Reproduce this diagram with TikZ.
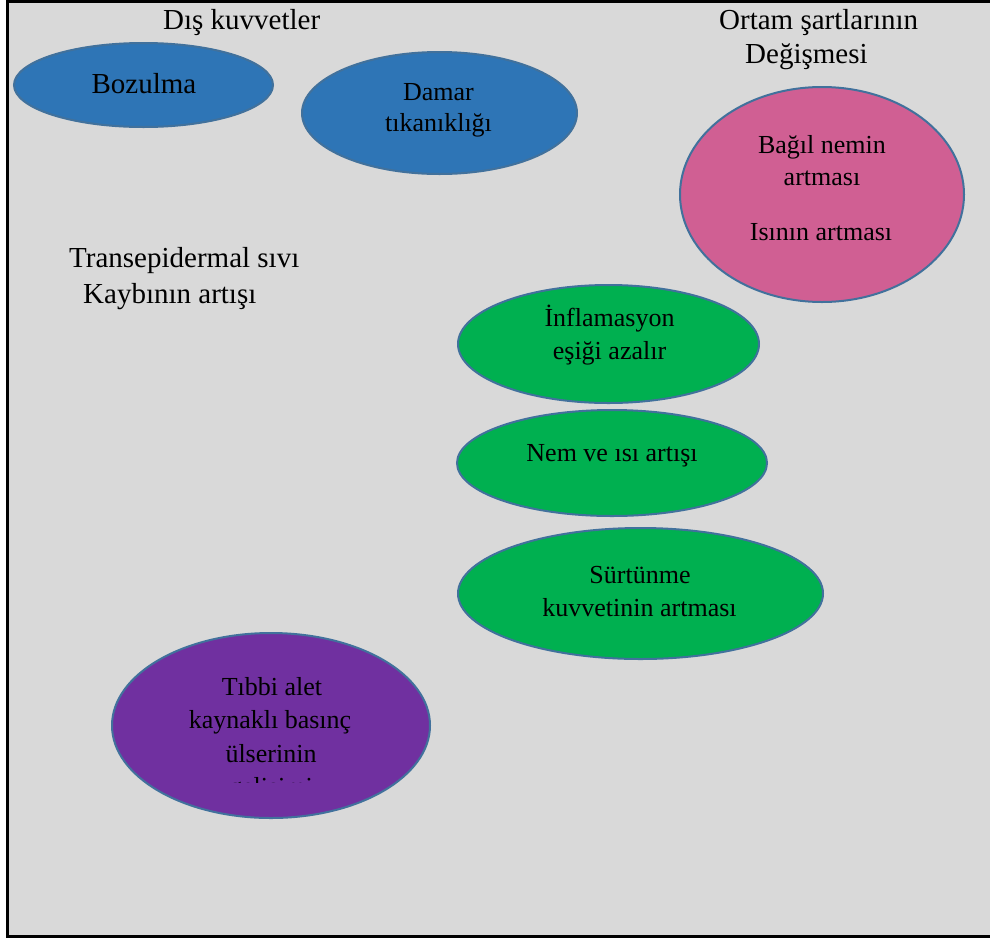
\documentclass[tikz,border=0pt]{standalone}
\usepackage{fontspec}
\setmainfont{Liberation Serif}
\usetikzlibrary{shapes.geometric}
\definecolor{bg}{HTML}{D9D9D9}
\definecolor{bluefill}{HTML}{2E75B6}
\definecolor{pinkfill}{HTML}{D05F93}
\definecolor{greenfill}{HTML}{00B050}
\definecolor{purplefill}{HTML}{7030A0}
\definecolor{edgeblue}{HTML}{41719C}
\begin{document}
\begin{tikzpicture}[x=1pt,y=-1pt,
  blob/.style={ellipse,draw=edgeblue,line width=2pt,inner sep=0pt,outer sep=0pt},
  heading/.style={anchor=base west,inner sep=0pt,font=\fontsize{29}{33}\selectfont},
  txt/.style={anchor=base,inner sep=0pt,font=\fontsize{26}{30}\selectfont},
  bigtxt/.style={anchor=base,inner sep=0pt,font=\fontsize{29}{33}\selectfont}]
\useasboundingbox (0,0) rectangle (990,940);
\fill[white] (0,0) rectangle (990,940);
\fill[bg] (7.5,1.3) rectangle (990,936.7);
\draw[line width=3pt] (990,1.3) -- (7.5,1.3) -- (7.5,936.7) -- (990,936.7);

% headings
\node[heading] (h1) at (163,29) {Dış kuvvetler};
\node[heading] (h2) at (719,29) {Ortam şartlarının};
\node[heading] (h3) at (745,63) {Değişmesi};
\node[heading] (h4) at (69,267) {Transepidermal sıvı};
\node[heading] (h5) at (83,303) {Kaybının artışı};

% ellipses
\node[blob,fill=bluefill,minimum width=259pt,minimum height=84pt] (e1) at (143.5,85) {};
\node[blob,fill=bluefill,minimum width=275pt,minimum height=122pt] (e2) at (439.5,113) {};
\node[blob,fill=pinkfill,minimum width=284pt,minimum height=215pt] (e3) at (822,194.5) {};
\node[blob,fill=greenfill,minimum width=301pt,minimum height=118pt] (e4) at (608.5,344) {};
\node[blob,fill=greenfill,minimum width=310pt,minimum height=106pt] (e5) at (612,463) {};
\node[blob,fill=greenfill,minimum width=365pt,minimum height=131pt] (e6) at (640.5,593.5) {};
\node[blob,fill=purplefill,minimum width=318pt,minimum height=185pt] (e7) at (271,725.5) {};

% ellipse texts
\node[bigtxt] (t1) at (144,93) {Bozulma};
\node[txt] (t2) at (438.5,100.7) {Damar};
\node[txt] (t3) at (438.5,131.7) {tıkanıklığı};
\node[txt] (t4) at (822,153) {Bağıl nemin};
\node[txt] (t5) at (822,185) {artması};
\node[txt] (t6) at (821,240) {Isının artması};
\node[txt] (t7) at (609.5,326) {İnflamasyon};
\node[txt] (t8) at (609.5,359) {eşiği azalır};
\node[txt] (t9) at (612,461) {Nem ve ısı artışı};
\node[txt] (t10) at (640,583) {Sürtünme};
\node[txt] (t11) at (639.5,616) {kuvvetinin artması};
\node[txt] (t12) at (272,695) {Tıbbi alet};
\node[txt] (t13) at (270,728) {kaynaklı basınç};
\node[txt] (t14) at (271,762) {ülserinin};
\begin{scope}
\clip (0,0) rectangle (990,782);
\node[txt] (t15) at (271,795.5) {gelişimi};
\end{scope}
\end{tikzpicture}
\end{document}
